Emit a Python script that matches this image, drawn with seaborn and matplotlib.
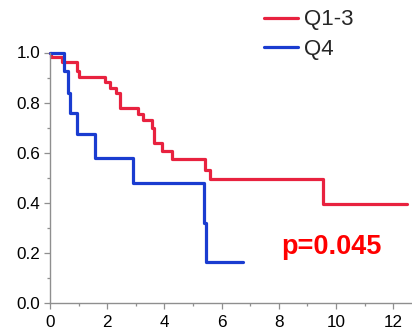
import numpy as np
import pandas as pd
import matplotlib
matplotlib.use("Agg")
import matplotlib.pyplot as plt
from matplotlib.ticker import MultipleLocator
import seaborn as sns

# Kaplan-Meier step data
q13_time = [0, 0.05, 0.43, 0.93, 1.01, 1.93, 2.1, 2.31, 2.45, 3.09, 3.25, 3.57, 3.64, 3.9, 4.28, 5.42, 5.59, 9.56, 12.47]
q13_surv = [1.0, 0.984, 0.963, 0.927, 0.902, 0.884, 0.860, 0.840, 0.778, 0.754, 0.729, 0.698, 0.638, 0.609, 0.576, 0.532, 0.495, 0.396, 0.396]
q4_time = [0, 0.5, 0.64, 0.7, 0.93, 1.57, 2.91, 5.38, 5.44, 6.76]
q4_surv = [1.0, 0.927, 0.840, 0.758, 0.674, 0.579, 0.481, 0.322, 0.163, 0.163]
groups = ["Q1-3", "Q4"]
colors = ["#E8223F", "#1A3CD0"]
p_label = "p=0.045"
x_ticks = [0, 2, 4, 6, 8, 10, 12]
y_ticks = [0.0, 0.2, 0.4, 0.6, 0.8, 1.0]

df = pd.concat([
    pd.DataFrame({"time": q13_time, "surv": q13_surv, "group": groups[0]}),
    pd.DataFrame({"time": q4_time, "surv": q4_surv, "group": groups[1]}),
], ignore_index=True)

sns.set_style("white")
plt.rcParams["font.family"] = ["Liberation Sans", "DejaVu Sans"]

fig = plt.figure(figsize=(4.12, 3.32), dpi=100)
W, H = 412, 332
ax = fig.add_axes([50 / W, 1 - 303.3 / H, (W - 50) / W, (303.3 - 52.5) / H])

sns.lineplot(data=df, x="time", y="surv", hue="group", palette=dict(zip(groups, colors)),
             estimator=None, sort=False, drawstyle="steps-post", linewidth=2.3,
             ax=ax, legend=False, clip_on=False)

ax.set_xlim(0, 12.66)
ax.set_ylim(0, 1.0)
ax.set_xticks(x_ticks)
ax.set_yticks(y_ticks)
ax.set_xticklabels([str(v) for v in x_ticks])
ax.set_yticklabels([f"{v:.1f}" for v in y_ticks])
ax.xaxis.set_minor_locator(MultipleLocator(1))
ax.yaxis.set_minor_locator(MultipleLocator(0.1))
ax.set_xlabel("")
ax.set_ylabel("")

spine_c = "#8f8f8f"
for s in ["top", "right"]:
    ax.spines[s].set_visible(False)
for s in ["left", "bottom"]:
    ax.spines[s].set_color(spine_c)
    ax.spines[s].set_linewidth(1.0)
ax.tick_params(which="major", direction="out", length=4, width=0.9, color=spine_c,
               labelsize=12.3, labelcolor="black")
ax.tick_params(axis="x", which="major", pad=4.5)
ax.tick_params(axis="y", which="major", pad=3)
ax.tick_params(which="minor", direction="out", length=2.5, width=0.9, color=spine_c)
ax.tick_params(bottom=True, left=True, which="both")

ax.text(9.83, 0.225, p_label, color="#FF0000", fontsize=19.5, fontweight="bold",
        ha="center", va="center")

handles = [plt.Line2D([], [], color=c, linewidth=2.3) for c in colors]
ax.legend(handles, groups, loc="upper left", bbox_to_anchor=(264 / W, 1 - 9.5 / H),
          bbox_transform=fig.transFigure, frameon=False, fontsize=16,
          handlelength=1.55, handletextpad=0.25, labelspacing=0.36, borderpad=0,
          borderaxespad=0)

fig.savefig("out.png", dpi=100)
